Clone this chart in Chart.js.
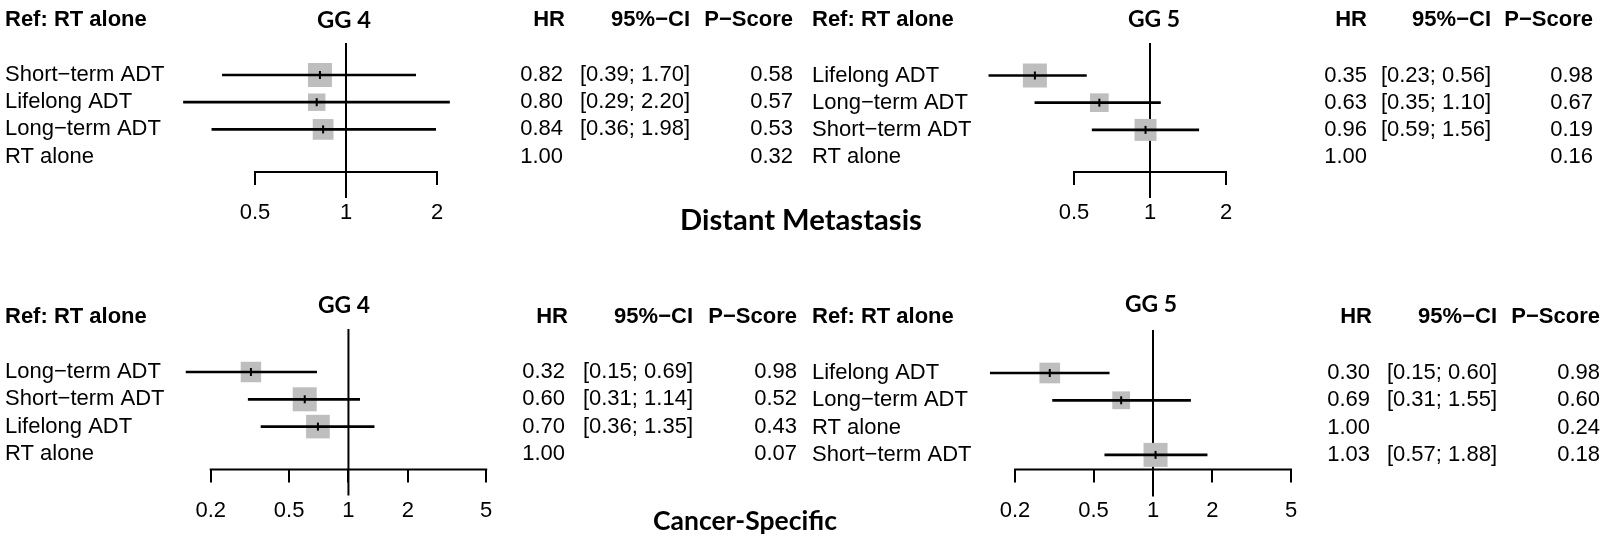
<!DOCTYPE html>
<html><head><meta charset="utf-8">
<script src="https://cdn.jsdelivr.net/npm/chart.js@4.4.1/dist/chart.umd.min.js"></script>
<style>
html,body{margin:0;padding:0;background:#fff;width:1607px;height:538px;overflow:hidden;}
#wrap{position:relative;width:1607px;height:538px;background:#fff;}
canvas{position:absolute;}
.sect{position:absolute;font-family:Lato,'Open Sans',sans-serif;font-weight:bold;color:#000;white-space:nowrap;line-height:1;transform:translateX(-50%);}
</style></head><body>
<div id="wrap">
<canvas id="c1" width="800" height="269" style="left:0;top:0"></canvas>
<canvas id="c2" width="807" height="269" style="left:800px;top:0"></canvas>
<canvas id="c3" width="800" height="269" style="left:0;top:269px"></canvas>
<canvas id="c4" width="807" height="269" style="left:800px;top:269px"></canvas>
<div class="sect" id="sDM">Distant Metastasis</div>
<div class="sect" id="sCS">Cancer-Specific</div>
</div>
<script>
// ---------- data ----------
const dmGG4Labels = ['Short−term ADT', 'Lifelong ADT', 'Long−term ADT', 'RT alone'];
const dmGG4HR     = [0.82, 0.80, 0.84, 1.00];
const dmGG4Lo     = [0.39, 0.29, 0.36, null];
const dmGG4Hi     = [1.70, 2.20, 1.98, null];
const dmGG4P      = [0.58, 0.57, 0.53, 0.32];

const dmGG5Labels = ['Lifelong ADT', 'Long−term ADT', 'Short−term ADT', 'RT alone'];
const dmGG5HR     = [0.35, 0.63, 0.96, 1.00];
const dmGG5Lo     = [0.23, 0.35, 0.59, null];
const dmGG5Hi     = [0.56, 1.10, 1.56, null];
const dmGG5P      = [0.98, 0.67, 0.19, 0.16];

const csGG4Labels = ['Long−term ADT', 'Short−term ADT', 'Lifelong ADT', 'RT alone'];
const csGG4HR     = [0.32, 0.60, 0.70, 1.00];
const csGG4Lo     = [0.15, 0.31, 0.36, null];
const csGG4Hi     = [0.69, 1.14, 1.35, null];
const csGG4P      = [0.98, 0.52, 0.43, 0.07];

const csGG5Labels = ['Lifelong ADT', 'Long−term ADT', 'RT alone', 'Short−term ADT'];
const csGG5HR     = [0.30, 0.69, 1.00, 1.03];
const csGG5Lo     = [0.15, 0.31, null, 0.57];
const csGG5Hi     = [0.60, 1.55, null, 1.88];
const csGG5P      = [0.98, 0.60, 0.24, 0.18];

const dmTicks = [0.5, 1, 2];
const csTicks = [0.2, 0.5, 1, 2, 5];

const refText = 'Ref: RT alone';
const headHR = 'HR', headCI = '95%−CI', headP = 'P−Score';

// ---------- style ----------
const FONT = "'Liberation Sans', Arial, Helvetica, sans-serif";
const TITLE_FONT = "Lato, 'Open Sans', sans-serif";
const SQUARE_MAX = 24;
const SQUARE_COLOR = '#bebebe';

const measureCtx = document.createElement('canvas').getContext('2d');
function fitSize(text, family, target) {
  measureCtx.font = 'bold 100px ' + family;
  return 100 * target / measureCtx.measureText(text).width;
}

function placeSection(id, cx, cy, targetWidth) {
  const el = document.getElementById(id);
  const size = fitSize(el.textContent, TITLE_FONT, targetWidth);
  el.style.fontSize = size.toFixed(2) + 'px';
  el.style.left = cx + 'px';
  el.style.top = (cy - 0.529 * size).toFixed(1) + 'px';
}
placeSection('sDM', 801, 219, 242);
placeSection('sCS', 745, 521, 184);

function makePanel(id, d, L) {
  const canvas = document.getElementById(id);
  const W = canvas.width, H = canvas.height;
  const yMin = -(L.row0 - L.top) / L.step;
  const yMax = yMin + (L.bottom - L.top) / L.step;

  // x range wide enough to hold every mark; axis line drawn only between first and last tick
  const tFirst = d.ticks[0], tLast = d.ticks[d.ticks.length - 1];
  const los = d.lo.filter(v => v != null), his = d.hi.filter(v => v != null);
  const xMin = Math.min(tFirst, ...los, ...d.hr) / 1.1;
  const xMax = Math.max(tLast, ...his, ...d.hr) * 1.1;
  const pxPerLog = (L.t1 - L.t0) / Math.log(tLast / tFirst);
  const areaLeft = L.t0 - pxPerLog * Math.log(tFirst / xMin);
  const areaRight = L.t1 + pxPerLog * Math.log(xMax / tLast);
  const ggSize = fitSize(d.title, TITLE_FONT, L.ggW);

  const widths = d.lo.map((lo, i) => lo == null ? null : Math.log(d.hi[i] / lo));
  const minW = Math.min(...widths.filter(w => w != null));
  const ciData = [], sqData = [], sqSize = [];
  d.lo.forEach((lo, i) => {
    if (lo == null) return;
    ciData.push({ y: i, x: [lo, d.hi[i]] });
    sqData.push({ x: d.hr[i], y: i });
    sqSize.push(SQUARE_MAX * minW / widths[i]);
  });

  const forestPlugin = {
    id: 'forest_' + id,
    beforeDatasetsDraw(chart) {
      const { ctx, chartArea, scales } = chart;
      const px = scales.x.getPixelForValue(1);
      ctx.save();
      ctx.strokeStyle = '#000';
      ctx.lineWidth = 2;
      ctx.beginPath();
      ctx.moveTo(px, chartArea.top);
      ctx.lineTo(px, chartArea.bottom + L.refExt);
      ctx.moveTo(scales.x.getPixelForValue(tFirst) - 1, chartArea.bottom);
      ctx.lineTo(scales.x.getPixelForValue(tLast) + 1, chartArea.bottom);
      ctx.stroke();
      ctx.restore();
    },
    afterDraw(chart) {
      const { ctx, scales } = chart;
      ctx.save();
      ctx.fillStyle = '#000';
      ctx.textBaseline = 'middle';
      ctx.font = 'bold 22px ' + FONT;
      ctx.textAlign = 'left';
      ctx.fillText(refText, L.refX, L.headY);
      ctx.textAlign = 'right';
      ctx.fillText(headHR, L.hrHX, L.headY);
      ctx.fillText(headCI, L.ciX, L.headY);
      ctx.fillText(headP, L.pX, L.headY);
      ctx.font = 'bold ' + ggSize.toFixed(2) + 'px ' + TITLE_FONT;
      ctx.textAlign = 'center';
      ctx.fillText(d.title, L.ggX, L.ggY);
      ctx.font = '22px ' + FONT;
      ctx.textAlign = 'right';
      d.hr.forEach((hr, i) => {
        const y = scales.y.getPixelForValue(i);
        ctx.fillText(hr.toFixed(2), L.hrX, y);
        if (d.lo[i] != null) {
          ctx.fillText('[' + d.lo[i].toFixed(2) + '; ' + d.hi[i].toFixed(2) + ']', L.ciX, y);
        }
        ctx.fillText(d.p[i].toFixed(2), L.pX, y);
      });
      ctx.restore();
    }
  };

  return new Chart(canvas, {
    type: 'scatter',
    data: {
      datasets: [
        { type: 'bar', indexAxis: 'y', data: ciData, backgroundColor: '#000', borderWidth: 0,
          barThickness: 2, clip: false, order: 2 },
        { type: 'scatter', data: sqData, pointStyle: 'rect',
          pointRadius: ctx => sqSize[ctx.dataIndex] / (2 * Math.SQRT1_2),
          pointHoverRadius: ctx => sqSize[ctx.dataIndex] / (2 * Math.SQRT1_2),
          pointBackgroundColor: SQUARE_COLOR, pointBorderWidth: 0, clip: false, order: 3 },
        { type: 'scatter', data: sqData, pointStyle: 'line', pointRotation: 90, pointRadius: 4,
          pointHoverRadius: 4, pointBorderColor: '#000', pointBorderWidth: 2, clip: false, order: 1 }
      ]
    },
    options: {
      responsive: false, animation: false, events: [],
      layout: { padding: { left: L.labelLeft, top: L.top, right: W - areaRight, bottom: 0 } },
      plugins: { legend: { display: false }, tooltip: { enabled: false }, title: { display: false } },
      scales: {
        x: {
          type: 'logarithmic', position: 'bottom', min: xMin, max: xMax, offset: false,
          beginAtZero: false,
          afterBuildTicks: s => { s.ticks = d.ticks.map(v => ({ value: v })); },
          afterFit: s => { s.height = H - L.bottom; },
          grid: { display: true, drawOnChartArea: false, drawTicks: true, tickLength: 13,
                  color: '#000', lineWidth: 2, offset: false },
          border: { display: false },
          ticks: { callback: v => String(v), font: { family: FONT, size: 22 }, color: '#000',
                   padding: 15, autoSkip: false, maxRotation: 0, minRotation: 0 }
        },
        y: {
          type: 'linear', position: 'left', reverse: true, min: yMin, max: yMax,
          offset: false, bounds: 'data',
          afterBuildTicks: s => { s.ticks = d.labels.map((_, i) => ({ value: i })); },
          afterFit: s => { s.width = areaLeft - L.labelLeft; },
          grid: { display: false, offset: false }, border: { display: false },
          ticks: { callback: v => (d.labels[v] !== undefined ? d.labels[v] : ''),
                   crossAlign: 'far', font: { family: FONT, size: 22 }, color: '#000',
                   padding: 0, autoSkip: false }
        }
      }
    },
    plugins: [forestPlugin]
  });
}

makePanel('c1',
  { title: 'GG 4', labels: dmGG4Labels, hr: dmGG4HR, lo: dmGG4Lo, hi: dmGG4Hi, p: dmGG4P, ticks: dmTicks },
  { labelLeft: 5, t0: 255, t1: 437, top: 43, bottom: 172, row0: 75, step: 27.2, refExt: 26,
    refX: 5, headY: 20, ggX: 344, ggY: 20, ggW: 54, hrHX: 565, hrX: 563, ciX: 690, pX: 793 });

makePanel('c2',
  { title: 'GG 5', labels: dmGG5Labels, hr: dmGG5HR, lo: dmGG5Lo, hi: dmGG5Hi, p: dmGG5P, ticks: dmTicks },
  { labelLeft: 12, t0: 274, t1: 426, top: 43, bottom: 172, row0: 75.5, step: 27.2, refExt: 26,
    refX: 12, headY: 20, ggX: 354, ggY: 20, ggW: 52, hrHX: 567, hrX: 567, ciX: 691, pX: 793 });

makePanel('c3',
  { title: 'GG 4', labels: csGG4Labels, hr: csGG4HR, lo: csGG4Lo, hi: csGG4Hi, p: csGG4P, ticks: csTicks },
  { labelLeft: 5, t0: 210.7, t1: 486.2, top: 60, bottom: 200.5, row0: 103, step: 27.3, refExt: 26,
    refX: 5, headY: 47.5, ggX: 344, ggY: 37, ggW: 52, hrHX: 568, hrX: 565, ciX: 693, pX: 797 });

makePanel('c4',
  { title: 'GG 5', labels: csGG5Labels, hr: csGG5HR, lo: csGG5Lo, hi: csGG5Hi, p: csGG5P, ticks: csTicks },
  { labelLeft: 12, t0: 215, t1: 491, top: 61, bottom: 200.5, row0: 104, step: 27.3, refExt: 27,
    refX: 12, headY: 48, ggX: 351, ggY: 36, ggW: 52, hrHX: 572, hrX: 570, ciX: 697, pX: 800 });
</script>
</body></html>
